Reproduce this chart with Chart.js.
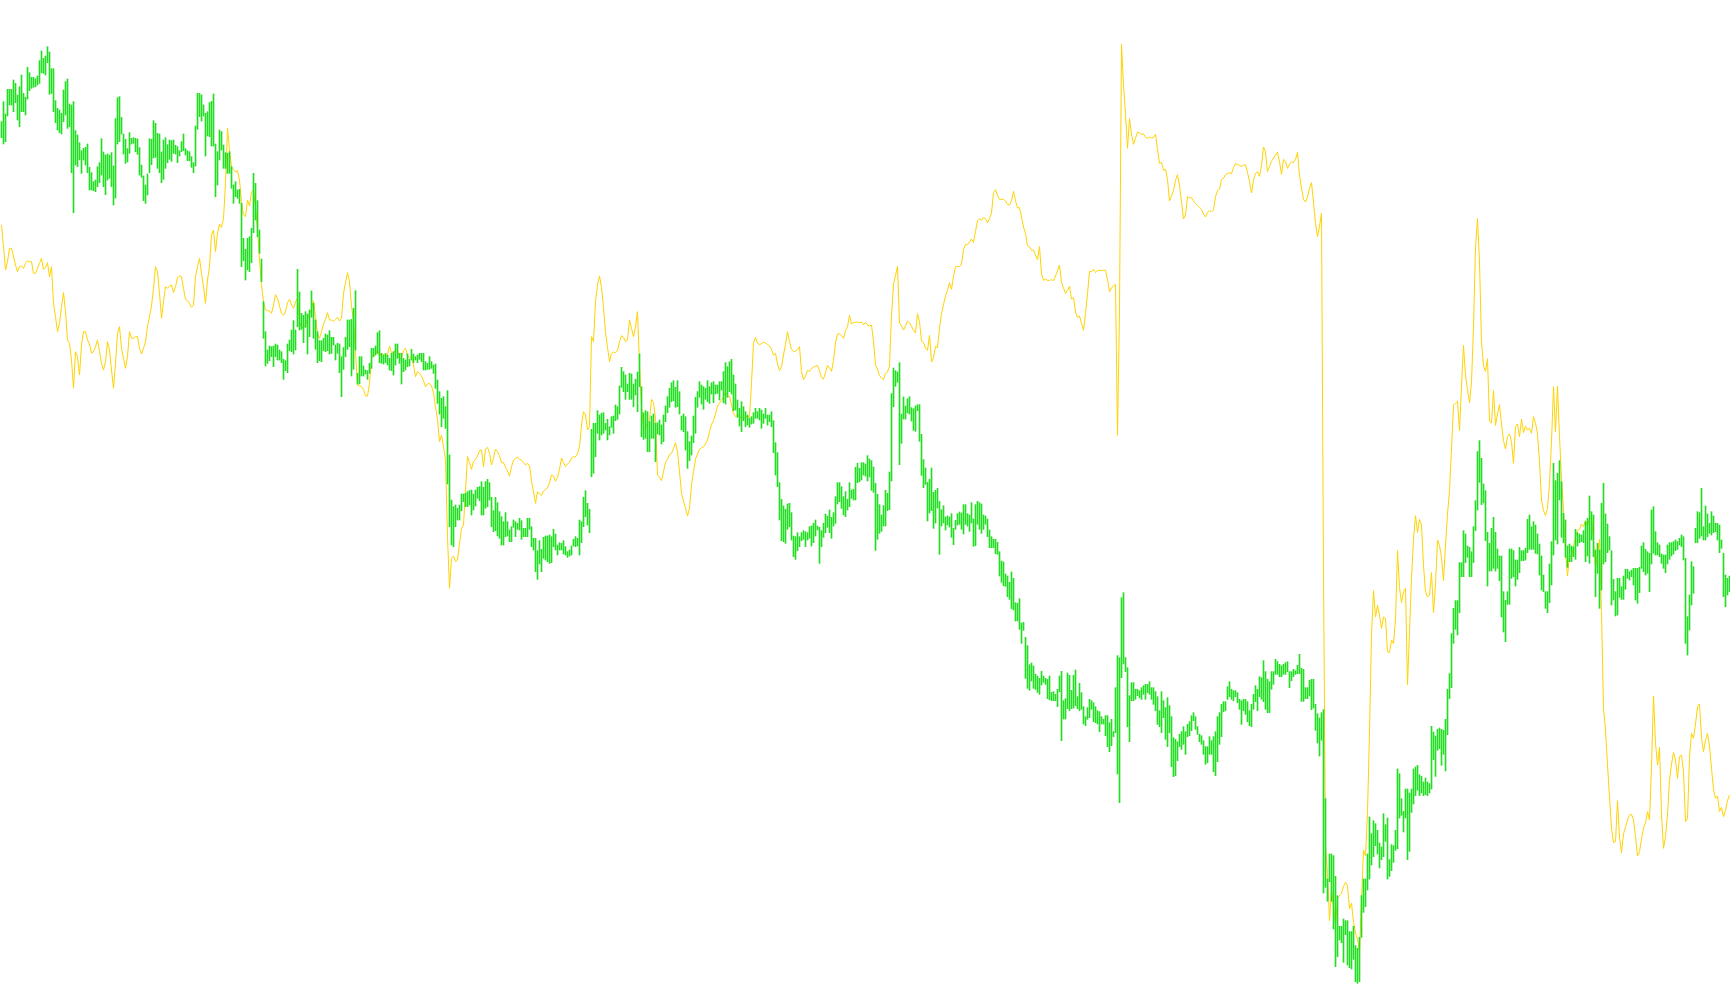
<!DOCTYPE html>
<html><head><meta charset="utf-8">
<script src="https://cdn.jsdelivr.net/npm/chart.js@4"></script>
<style>html,body{margin:0;padding:0;background:#fff;overflow:hidden}#wrap{width:1730px;height:1005px}</style>
</head><body><div id="wrap"><canvas id="c" width="1730" height="1005"></canvas></div>
<script>
// Values on a depth-style scale (larger = lower on the chart); axis is reversed.
const barTop = [
365,305,342,268,268,268,240,250,285,260,225,280,292,202,218,232,232,236,228,182,
153,175,168,140,156,206,206,302,325,330,340,270,245,237,312,315,305,392,405,428,
452,445,442,432,502,518,545,540,500,488,416,456,465,462,465,458,498,356,293,290,
352,402,418,446,398,415,413,415,417,443,495,528,555,522,416,418,362,370,400,402,
456,420,413,434,420,422,420,436,440,452,425,402,446,452,455,470,488,378,280,280,
285,315,340,335,308,304,282,432,
455,390,395,435,458,460,455,500,555,545,570,568,610,715,748,715,710,685,520,550,
602,690,777,905,995,1050,1038,1040,1038,1032,1035,1050,1055,1078,1082,1032,1020,990,962,990,
808,876,940,946,935,942,930,873,910,960,995,1022,1022,1015,1002,1005,992,1012,1012,1035,
1030,1032,1070,1043,1012,960,960,958,925,872,1120,1070,1070,1098,1110,1112,1090,1045,1045,1038,
998,992,1060,1065,1060,1065,1075,1060,1055,1032,1032,1060,1060,1075,1080,1062,1078,1048,1062,1070,
1065,1060,1060,1060,1085,1090,1070,1085,
1095,1092,1140,1175,1195,1190,1220,1172,1365,1500,1520,1515,1525,1515,1482,1482,1480,1475,1472,1470,
1482,1470,1462,1460,1445,1462,1445,1438,1448,1492,1532,1492,1508,1535,1550,1565,1538,1565,1590,1580,
1560,1565,1570,1555,1562,1585,1585,1555,1555,1580,1615,1615,1652,1622,1648,1612,1608,1608,1605,1610,
1588,1602,1635,1628,1630,1622,1640,1655,1650,1638,1618,1610,1615,1560,1565,1492,1472,1510,1528,1288,
1270,1270,1232,1245,1240,1238,1270,1258,1280,1250,1248,1215,1220,1158,1102,1115,1125,1152,1120,1122,
1152,1138,1116,1062,1160,1238,1232,1235,
1265,1248,1242,1270,1268,1260,1275,1245,1218,1190,1165,1148,1142,1162,1142,1175,1248,1242,1250,1295,
1325,1308,1248,1192,1175,1145,1155,1160,1165,1142,1160,1148,1145,1155,1155,1145,1145,1115,1088,1100,
1085,1078,1125,1152,1200,1225,1205,1220,1235,1245,1255,1250,1238,1225,1235,1225,1230,1242,1225,1245,
1245,1235,1262,1328,1358,1448,1498,1518,1528,1512,1510,1538,1608,1610,1598,1610,1598,1592,1595,1598,
1580,1578,1570,1560,1578,1582,1592,1570,1542,1548,1530,1552,1538,1490,1448,1448,1460,1490,1475,1498,
1448,1470,1468,1402,1390,1405,1388,1388,
1392,1367,1377,1382,1401,1450,1483,1514,1545,1517,1471,1480,1416,1181,1104,1112,1116,1088,1242,1191,
1218,1196,1190,1223,1226,1218,1214,1214,1303,1379,1404,1447,1438,1404,1477,1471,1465,1504,1529,1517,
1551,1548,1551,1541,1585,1561,1541,1536,1539,1514,1514,1541,1545,1508,1557,1514,1504,1508,1512,1545,
1548,1557,1590,1610,1618,1618,1627,1655,1683,1686,1722,1728,1747,1716,1735,1808,1810,1796,1869,1867,
1912,1937,1994,1989,1998,2022,2028,2035,2014,2028,2035,2038,2028,2077,2075,2083,2068,2028,2014,2102,
2096,2019,2026,2071,2026,2010,2090,2050,
2078,2120,2150,2123,2098,2102,2108,2120,2132,2135,2150,2158,2147,2147,2168,2158,2195,2063,1967,1973,
1793,1778,1973,2003,2087,2048,2048,2068,2068,2072,2063,2057,2053,2053,2045,2063,2063,2075,2090,2132,
2075,2102,2123,2093,2117,2150,2213,2218,2225,2203,2195,2180,2195,2173,2165,2147,2138,2150,2180,2203,
2207,2222,2240,2240,2210,2222,2210,2195,2150,2138,2113,2105,2105,2060,2045,2068,2072,2072,2078,2098,
2102,2098,2098,2105,2132,2113,2083,2057,2068,2030,2033,1982,2015,2038,2045,2015,2015,1978,1985,1993,
1997,1993,1988,1985,2015,2015,2008,2012,
1996,1963,2005,2008,2063,2063,2041,2038,2038,2113,2141,2154,2138,2129,2396,2637,2562,2562,2567,2629,
2687,2779,2779,2757,2762,2762,2795,2795,2779,2837,2845,2812,2687,2637,2637,2562,2451,2501,2462,2471,
2491,2529,2541,2441,2474,2454,2579,2534,2537,2491,2307,2321,2396,2434,2367,2367,2379,2367,2307,2301,
2296,2324,2329,2346,2334,2346,2351,2179,2196,2208,2188,2184,2188,2191,2158,2068,2021,1901,1825,1802,
1802,1688,1688,1592,1602,1638,1642,1655,1580,1502,1355,1322,1375,1452,1472,1597,1630,1585,1552,1597,
1647,1668,1668,1775,1801,1775,1647,1647,
1652,1680,1680,1642,1652,1652,1645,1558,1545,1580,1565,1575,1602,1632,1668,1725,1775,1775,1692,1625,
1390,1442,1420,1382,1445,1540,1560,1638,1632,1638,1640,1588,1598,1602,1605,1592,1565,1555,1488,1535,
1545,1650,1630,1650,1510,1450,1542,1572,1610,1652,1738,1775,1735,1735,1760,1728,1708,1708,1715,1710,
1705,1705,1705,1702,1638,1628,1648,1655,1660,1530,1520,1595,1628,1635,1662,1665,1665,1635,1628,1628,
1625,1620,1625,1615,1605,1610,1675,1850,1785,1685,1700,1585,1535,1538,1465,1580,1518,1542,1570,1535,
1548,1570,1570,1575,1620,1660,1725,1735,1728
];
const barBottom = [
413,432,425,348,315,315,335,308,360,380,335,335,345,297,272,265,262,260,255,250,
218,220,225,188,283,280,335,368,390,398,402,365,345,385,380,518,638,495,500,480,
520,480,495,518,570,570,572,575,560,548,525,560,584,540,535,560,615,594,432,425,
402,462,490,486,460,432,430,455,463,525,532,602,610,585,518,494,474,472,505,518,
548,538,505,488,478,484,460,462,488,468,455,452,465,482,482,502,518,498,388,350,
363,348,468,408,410,438,438,590,
555,480,450,505,505,520,520,565,610,590,595,610,800,782,840,810,815,788,698,660,
710,760,845,1015,1098,1090,1082,1070,1100,1070,1080,1080,1088,1138,1112,1118,1052,1055,1062,1050,
980,990,988,1028,982,1062,1010,952,1015,1048,1088,1082,1085,1052,1055,1052,1062,1060,1035,1080,
1060,1118,1190,1108,1070,1048,1040,1128,1108,1050,1152,1152,1128,1128,1122,1138,1120,1105,1070,1065,
1060,1088,1090,1092,1088,1095,1110,1112,1125,1095,1075,1090,1152,1115,1110,1100,1098,1080,1088,1080,
1088,1078,1085,1110,1110,1108,1108,1105,
1120,1165,1210,1242,1280,1255,1285,1452,1580,1635,1640,1580,1560,1560,1532,1505,1520,1520,1515,1545,
1530,1518,1495,1502,1545,1545,1525,1520,1500,1580,1595,1592,1608,1615,1635,1635,1610,1608,1625,1625,
1582,1610,1588,1590,1618,1610,1610,1610,1588,1640,1650,1715,1738,1692,1715,1675,1680,1685,1690,1688,
1640,1650,1665,1650,1650,1662,1665,1672,1668,1665,1638,1640,1638,1665,1628,1580,1550,1575,1598,1430,
1420,1370,1300,1320,1305,1300,1290,1320,1305,1282,1300,1262,1258,1242,1162,1175,1198,1175,1198,1198,
1220,1185,1235,1160,1310,1318,1315,1355,
1355,1315,1315,1385,1302,1305,1332,1325,1265,1238,1222,1205,1202,1222,1220,1242,1290,1295,1350,1405,
1382,1365,1328,1300,1222,1192,1212,1228,1198,1205,1210,1182,1208,1182,1180,1200,1170,1208,1212,1192,
1175,1182,1232,1230,1252,1278,1295,1262,1280,1275,1282,1272,1270,1255,1255,1260,1285,1270,1255,1275,
1265,1280,1358,1425,1460,1560,1622,1625,1630,1588,1580,1620,1670,1678,1652,1640,1622,1618,1640,1620,
1615,1638,1628,1608,1590,1690,1640,1612,1598,1582,1598,1615,1578,1570,1512,1505,1525,1545,1550,1530,
1520,1495,1500,1500,1448,1445,1440,1425,
1428,1443,1431,1471,1477,1651,1618,1600,1594,1578,1578,1532,1529,1443,1220,1159,1147,1394,1330,1257,
1257,1239,1242,1263,1291,1294,1232,1324,1426,1463,1453,1563,1539,1532,1585,1569,1524,1663,1578,1569,
1590,1575,1581,1612,1634,1588,1575,1573,1588,1602,1573,1578,1594,1569,1639,1637,1573,1588,1600,1588,
1573,1610,1643,1643,1643,1661,1663,1728,1747,1757,1759,1790,1798,1826,1830,1863,1863,1888,1930,1891,
2035,2065,2071,2043,2065,2068,2077,2083,2055,2047,2053,2096,2099,2102,2102,2102,2120,2075,2222,2157,
2157,2126,2132,2126,2124,2117,2126,2132,
2128,2172,2177,2158,2153,2128,2165,2168,2172,2195,2172,2172,2207,2240,2255,2237,2210,2198,2322,2408,
2033,1992,2015,2180,2225,2102,2102,2098,2087,2093,2098,2083,2098,2078,2083,2098,2113,2132,2173,2180,
2198,2153,2218,2240,2198,2300,2330,2327,2282,2240,2248,2233,2263,2210,2207,2192,2162,2188,2203,2225,
2233,2263,2293,2288,2263,2263,2315,2327,2285,2233,2210,2135,2132,2098,2090,2098,2102,2090,2108,2128,
2173,2132,2143,2165,2177,2180,2128,2105,2132,2090,2098,2105,2128,2138,2138,2068,2053,2023,2023,2030,
2030,2023,2023,2015,2063,2042,2030,2023,
2021,2021,2104,2104,2096,2096,2088,2129,2124,2191,2229,2268,2221,2679,2662,2704,2645,2704,2787,2900,
2870,2820,2828,2887,2804,2895,2903,2907,2878,2945,2950,2945,2812,2737,2720,2670,2637,2595,2570,2537,
2562,2604,2579,2570,2524,2637,2629,2612,2587,2551,2546,2454,2446,2496,2454,2579,2554,2437,2412,2387,
2371,2387,2379,2387,2384,2387,2379,2367,2279,2329,2251,2246,2296,2263,2313,2204,2096,2063,1930,1888,
1905,1838,1730,1730,1688,1672,1730,1730,1688,1592,1530,1447,1514,1509,1622,1758,1713,1713,1705,1713,
1705,1742,1851,1896,1925,1813,1813,1735,
1730,1758,1738,1718,1682,1682,1680,1658,1648,1648,1648,1660,1662,1725,1770,1775,1825,1838,1808,1755,
1665,1620,1632,1500,1612,1628,1672,1702,1685,1685,1670,1678,1638,1628,1625,1628,1685,1668,1690,1620,
1670,1790,1720,1825,1770,1692,1685,1658,1650,1815,1800,1848,1845,1792,1798,1798,1768,1735,1740,1730,
1755,1800,1810,1778,1705,1715,1725,1720,1775,1692,1660,1665,1665,1670,1690,1705,1718,1692,1678,1668,
1662,1652,1648,1635,1640,1680,1930,1965,1890,1815,1780,1628,1628,1615,1608,1620,1620,1610,1600,1605,
1598,1595,1620,1658,1645,1790,1820,1785,1775
];
const lineValues = [
675,740,810,785,745,745,768,795,815,800,798,805,790,782,785,785,820,820,805,790,
775,808,802,788,830,800,910,950,995,970,920,878,935,1020,1030,1080,1165,1055,1070,1125,
1035,995,995,1020,1032,1060,1055,1040,1020,1055,1090,1110,1085,1025,1050,1110,1165,1090,1000,980,
1045,1075,1105,1070,995,1015,1015,1010,1010,1045,1062,1045,1025,980,950,918,865,800,815,880,
955,905,860,865,858,855,878,860,832,828,830,865,898,902,910,922,915,830,800,775,
820,860,910,840,800,705,690,755,
700,672,682,655,550,385,450,500,508,516,512,540,605,645,650,600,618,575,570,620,
690,780,855,905,930,932,933,940,915,884,895,918,940,946,935,908,898,915,925,906,
895,965,982,982,975,958,940,927,902,950,1000,1015,995,972,958,938,960,960,964,958,
952,963,955,880,848,818,845,920,960,1060,1156,1158,1160,1168,1188,1188,1150,1075,1065,1065,
1050,1068,1060,1065,1068,1065,1038,1058,1060,1050,1050,1078,1075,1052,1044,1066,1075,1068,1095,1130,
1115,1120,1128,1142,1160,1152,1150,1158,
1178,1220,1258,1325,1305,1340,1380,1610,1765,1675,1668,1685,1680,1630,1585,1575,1470,1370,1388,1408,
1384,1377,1368,1352,1350,1400,1347,1342,1360,1395,1375,1347,1355,1367,1388,1388,1402,1413,1428,1400,
1380,1375,1371,1378,1380,1388,1395,1390,1397,1442,1475,1510,1475,1482,1486,1474,1468,1464,1448,1425,
1428,1444,1432,1408,1374,1388,1399,1392,1386,1374,1370,1371,1360,1340,1275,1235,1245,1290,1280,1010,
1025,905,855,828,862,920,998,1042,1085,1060,1056,1058,1052,1025,1007,1012,1025,1020,960,985,
1010,980,935,1095,1220,1285,1285,1267,
1260,1198,1207,1255,1425,1432,1442,1415,1387,1378,1363,1360,1345,1328,1355,1415,1480,1503,1525,1548,
1525,1455,1415,1377,1362,1348,1343,1340,1332,1320,1295,1273,1262,1242,1218,1209,1201,1190,1176,1188,
1188,1215,1240,1250,1246,1249,1254,1253,1251,1249,1252,1150,1030,1012,1030,1034,1031,1026,1029,1034,
1038,1048,1066,1060,1092,1112,1100,1065,1033,995,1024,1048,1054,1054,1049,1040,1115,1139,1128,1112,
1114,1106,1101,1099,1096,1112,1133,1137,1118,1096,1104,1114,1082,1028,1002,1001,1007,1015,992,980,
946,972,968,967,966,968,966,974,
967,975,978,975,1024,1095,1108,1127,1134,1139,1120,1116,1098,945,853,826,799,969,978,990,
978,963,968,979,991,999,941,965,1024,1027,1044,1051,1006,1086,1073,1039,1043,985,941,914,
887,871,848,868,828,801,799,800,792,749,733,734,726,717,727,694,663,656,661,652,
656,669,656,639,577,569,586,598,598,598,603,613,615,602,574,602,624,623,651,681,
700,737,740,751,750,765,779,740,822,841,838,841,841,839,842,828,812,795,847,864,
880,871,859,897,893,936,952,948,
970,991,941,881,814,815,808,818,812,811,811,811,811,839,875,864,857,854,1306,926,
132,254,344,445,356,403,433,415,396,399,403,402,412,415,411,414,412,403,448,490,
487,511,508,538,603,588,571,541,524,556,605,657,645,590,593,593,602,611,617,623,
629,642,651,638,632,635,630,590,572,568,538,535,524,520,518,521,502,491,494,496,
499,496,494,517,545,579,541,520,515,529,496,441,456,515,499,484,474,465,457,485,
523,478,484,505,493,485,488,478,
457,526,565,598,606,591,565,548,606,670,710,678,640,1722,2537,2620,2762,2670,2720,2774,
2695,2687,2680,2659,2647,2657,2727,2709,2767,2799,2817,2857,2695,2551,2567,2437,2196,1905,1772,1851,
1816,1845,1885,1851,1855,1955,1958,1920,1931,1858,1652,1763,1808,1775,1765,2055,1896,1735,1618,1547,
1597,1558,1575,1697,1775,1791,1785,1718,1838,1755,1620,1637,1672,1742,1635,1542,1472,1347,1216,1209,
1204,1292,1159,1036,1126,1169,1209,1147,981,743,656,786,1026,1097,1114,1076,1264,1269,1172,1276,
1242,1214,1272,1322,1347,1309,1302,1325,
1390,1280,1272,1310,1258,1298,1278,1290,1285,1300,1250,1270,1300,1385,1500,1532,1546,1525,1450,1325,
1160,1295,1158,1310,1435,1525,1660,1728,1668,1672,1640,1610,1592,1588,1572,1580,1562,1578,1558,1550,
1625,1705,1662,1618,1835,2125,2190,2295,2392,2485,2528,2525,2402,2512,2558,2502,2480,2460,2445,2443,
2460,2510,2568,2555,2518,2485,2468,2435,2460,2300,2088,2230,2295,2242,2445,2545,2510,2445,2340,2292,
2258,2280,2335,2270,2265,2315,2465,2455,2272,2200,2215,2172,2120,2112,2212,2255,2222,2200,2238,2305,
2368,2395,2388,2435,2422,2450,2432,2402,2385
];
const categories = barTop.map((_, i) => i + 1);

const GREEN = 'rgb(34,221,34)';
const GOLD = 'rgb(255,210,0)';

// shift the dataset layer by half a pixel so 1px bars land on whole pixels
const halfPixel = {
  id: 'halfPixel',
  beforeDatasetsDraw(chart) { chart.ctx.save(); chart.ctx.translate(0.5, 0); },
  afterDatasetsDraw(chart) { chart.ctx.restore(); }
};

new Chart(document.getElementById('c'), {
  type: 'bar',
  data: {
    labels: categories,
    datasets: [
      {
        type: 'bar',
        data: barTop.map((t, i) => [t, barBottom[i]]),
        backgroundColor: GREEN,
        borderWidth: 0,
        borderSkipped: false,
        barThickness: 1,
        clip: false,
        order: 0
      },
      {
        type: 'line',
        data: lineValues,
        borderColor: GOLD,
        borderWidth: 1,
        pointRadius: 0,
        tension: 0,
        fill: false,
        clip: false,
        order: 1
      }
    ]
  },
  plugins: [halfPixel],
  options: {
    responsive: false,
    animation: false,
    devicePixelRatio: 1,
    events: [],
    layout: { padding: 0 },
    plugins: { legend: { display: false }, tooltip: { enabled: false } },
    scales: {
      x: { display: false, offset: true, grid: { display: false } },
      y: { display: false, reverse: true, min: 0, max: 3015, grid: { display: false } }
    }
  }
});
</script>
</body></html>
